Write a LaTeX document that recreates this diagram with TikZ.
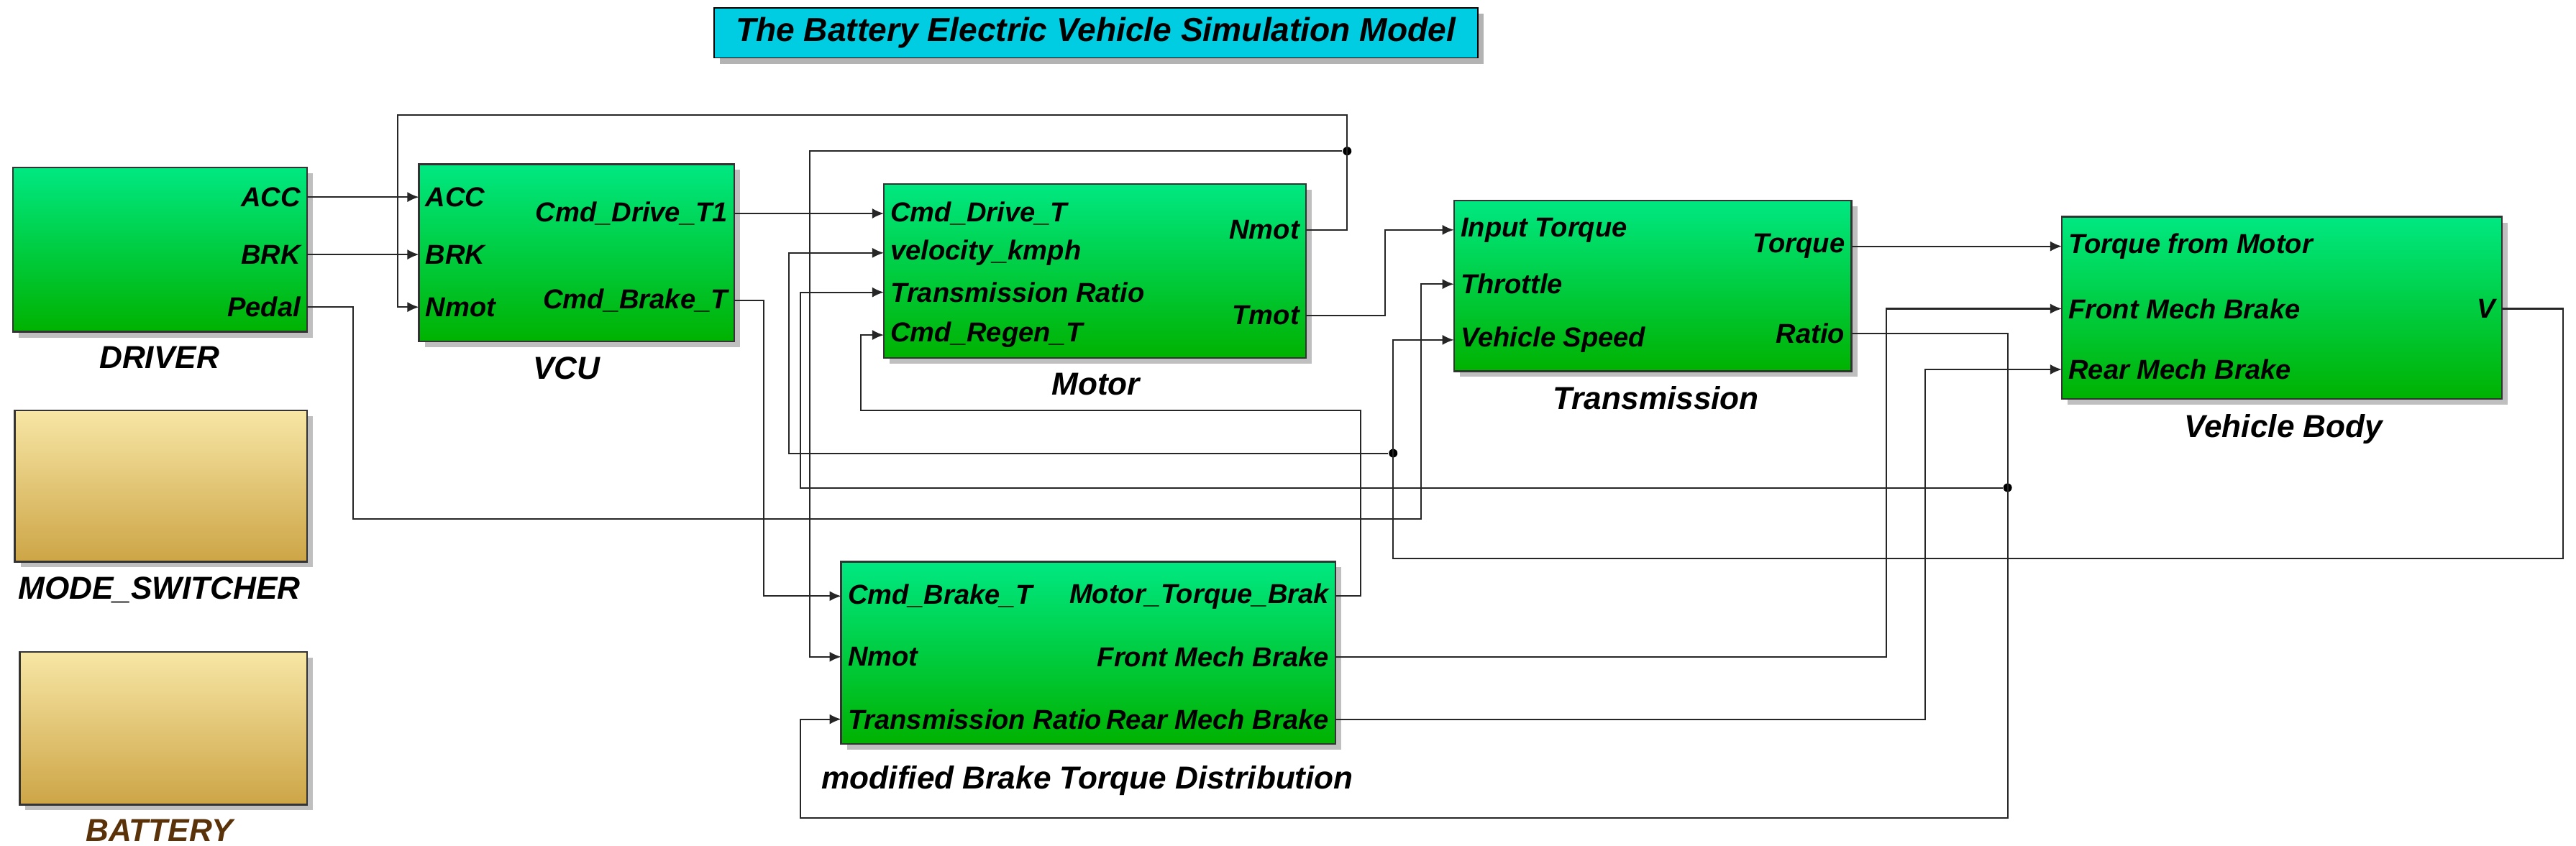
\documentclass[tikz,border=0pt]{standalone}
\usepackage{fontspec}
\setmainfont{Liberation Sans}
\usetikzlibrary{arrows.meta,shadows}
\begin{document}
\begin{tikzpicture}[x=0.02cm,y=-0.02cm,
 font=\fontsize{9.5}{11}\selectfont\bfseries\itshape,
 blk/.style={draw=black!80,line width=0.6pt,top color={rgb,255:red,0;green,232;blue,130},bottom color={rgb,255:red,0;green,178;blue,0},drop shadow={shadow xshift=2pt,shadow yshift=-2pt,opacity=0.5},inner sep=0pt},
 yblk/.style={blk,top color={rgb,255:red,247;green,230;blue,165},bottom color={rgb,255:red,205;green,165;blue,70}},
 w/.style={line width=0.5pt,draw=black!85},
 a/.style={w,-{Latex[length=4pt,width=3.5pt]}},
 pin/.style={anchor=west,inner sep=1pt},
 pout/.style={anchor=east,inner sep=1pt},
 lbl/.style={anchor=north,font=\fontsize{11}{13}\selectfont\bfseries\itshape},
 dot/.style={circle,fill=black,inner sep=0pt,minimum size=3pt}]
\useasboundingbox (0,0) rectangle (1568,515);
\newcommand\mkblk[6]{\node[#6,minimum width={(#4-#2)*0.02cm},minimum height={(#5-#3)*0.02cm}] (#1) at ({(#2+#4)/2},{(#3+#5)/2}) {};}
% title
\node[draw=black,fill={rgb,255:red,0;green,205;blue,225},drop shadow={shadow xshift=2pt,shadow yshift=-2pt,opacity=0.6},minimum width=9.3cm,minimum height=0.5cm,font=\fontsize{11.5}{13}\selectfont\bfseries\itshape] (title) at (667,20) {The Battery Electric Vehicle Simulation Model};
% blocks
\mkblk{drv}{8}{102}{187}{202}{blk}
\mkblk{vcu}{255}{100}{447}{208}{blk}
\mkblk{mot}{538}{112}{795}{218}{blk}
\mkblk{trn}{885}{122}{1127}{226}{blk}
\mkblk{veh}{1255}{132}{1523}{243}{blk}
\mkblk{mode}{9}{250}{187}{342}{yblk}
\mkblk{bat}{12}{397}{187}{490}{yblk}
\mkblk{brk}{512}{342}{813}{453}{blk}
% captions
\node[lbl] (cdrv) at (97,205) {DRIVER};
\node[lbl] (cvcu) at (345,211) {VCU};
\node[lbl] (cmot) at (667,221) {Motor};
\node[lbl] (ctrn) at (1008,229) {Transmission};
\node[lbl] (cveh) at (1390,246) {Vehicle Body};
\node[lbl] (cmode) at (97,345) {MODE\_SWITCHER};
\node[lbl,text={rgb,255:red,90;green,50;blue,10}] (cbat) at (97,493) {BATTERY};
\node[lbl] (cbrk) at (662,460) {modified Brake Torque Distribution};
% port labels
\node[pout] (dacc) at (185,120) {ACC};
\node[pout] (dbrk) at (185,155) {BRK};
\node[pout] (dped) at (185,187) {Pedal};
\node[pin] (vacc) at (257,120) {ACC};
\node[pin] (vbrk) at (257,155) {BRK};
\node[pin] (vnm) at (257,187) {Nmot};
\node[pout] (vdt) at (445,130) {Cmd\_Drive\_T1};
\node[pout] (vbt) at (445,183) {Cmd\_Brake\_T};
\node[pin] (mdt) at (540,130) {Cmd\_Drive\_T};
\node[pin] (mvk) at (540,154) {velocity\_kmph};
\node[pin] (mtr) at (540,178) {Transmission Ratio};
\node[pin] (mrg) at (540,204) {Cmd\_Regen\_T};
\node[pout] (mnm) at (793,140) {Nmot};
\node[pout] (mtm) at (793,192) {Tmot};
\node[pin] (tit) at (887,140) {Input Torque};
\node[pin] (tth) at (887,173) {Throttle};
\node[pin] (tvs) at (887,207) {Vehicle Speed};
\node[pout] (ttq) at (1125,150) {Torque};
\node[pout] (tra) at (1125,203) {Ratio};
\node[pin] (btq) at (1257,150) {Torque from Motor};
\node[pin] (bfm) at (1257,188) {Front Mech Brake};
\node[pin] (brm) at (1257,225) {Rear Mech Brake};
\node[pout] (bv) at (1521,188) {V};
\node[pin] (kcb) at (514,363) {Cmd\_Brake\_T};
\node[pin] (knm) at (514,400) {Nmot};
\node[pin] (ktr) at (514,438) {Transmission Ratio};
\node[pout] (kmt) at (811,363) {Motor\_Torque\_Brak};
\node[pout] (kfm) at (811,400) {Front Mech Brake};
\node[pout] (krm) at (811,438) {Rear Mech Brake};
% junctions
\node[dot] (j1) at (820,92) {};
\node[dot] (j2) at (848,276) {};
\node[dot] (j3) at (1222,297) {};
% wires
\draw[a] (187,120) -- (255,120);
\draw[a] (187,155) -- (255,155);
\draw[a] (187,187) -- (215,187) -- (215,316) -- (865,316) -- (865,173) -- (885,173);
\draw[a] (447,130) -- (538,130);
\draw[a] (447,183) -- (465,183) -- (465,363) -- (512,363);
\draw[a] (795,140) -- (820,140) -- (820,70) -- (242,70) -- (242,187) -- (255,187);
\draw[a] (j1) -- (493,92) -- (493,400) -- (512,400);
\draw[a] (795,192) -- (843,192) -- (843,140) -- (885,140);
\draw[a] (1127,150) -- (1255,150);
\draw[a] (1523,188) -- (1560,188) -- (1560,340) -- (848,340) -- (848,207) -- (885,207);
\draw[a] (j2) -- (480,276) -- (480,154) -- (538,154);
\draw[a] (1127,203) -- (1222,203) -- (1222,498) -- (487,498) -- (487,438) -- (512,438);
\draw[a] (j3) -- (487,297) -- (487,178) -- (538,178);
\draw[a] (813,363) -- (828,363) -- (828,250) -- (524,250) -- (524,204) -- (538,204);
\draw[a] (813,400) -- (1148,400) -- (1148,188) -- (1255,188);
\draw[a] (813,438) -- (1172,438) -- (1172,225) -- (1255,225);
\end{tikzpicture}
\end{document}
